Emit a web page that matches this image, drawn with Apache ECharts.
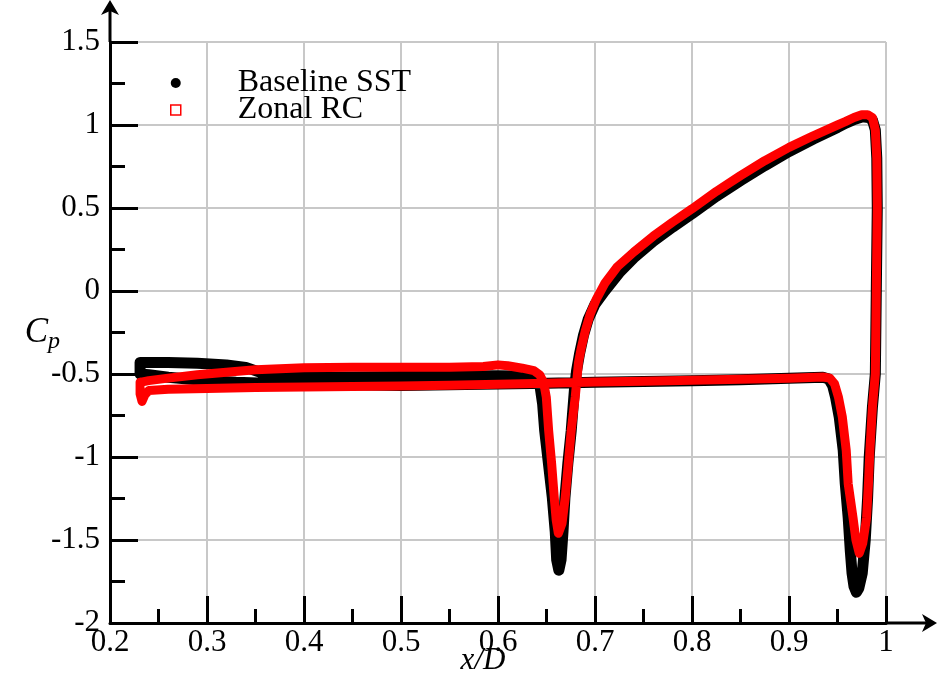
<!DOCTYPE html>
<html>
<head>
<meta charset="utf-8">
<script src="https://cdn.jsdelivr.net/npm/echarts@6.0.0/dist/echarts.min.js"></script>
<style>
  html, body { margin: 0; padding: 0; background: #fff; }
  #chart { width: 937px; height: 689px; }
</style>
</head>
<body>
<div id="chart"></div>
<script>
// Cp along the surface: [x/D, Cp]
// Baseline SST: bottom side + trailing dip + right edge
const sstLower = [
  [0.231, -0.43], [0.231, -0.5], [0.24, -0.505], [0.26, -0.52], [0.28, -0.53], [0.3, -0.54],
  [0.33, -0.55], [0.36, -0.555], [0.4, -0.56], [0.45, -0.565], [0.5, -0.57], [0.55, -0.565],
  [0.6, -0.56], [0.65, -0.555], [0.7, -0.55], [0.75, -0.545], [0.8, -0.54], [0.85, -0.535],
  [0.9, -0.525], [0.935, -0.52], [0.941, -0.53], [0.945, -0.57], [0.948, -0.64], [0.9518, -0.76],
  [0.9559, -0.96], [0.958, -1.16], [0.961, -1.365], [0.9632, -1.565], [0.965, -1.7], [0.967, -1.78],
  [0.9695, -1.815], [0.972, -1.79], [0.9755, -1.7], [0.9786, -1.5], [0.981, -1.25], [0.9827, -1.0],
  [0.986, -0.7], [0.989, -0.5], [0.9895, -0.25], [0.99, 0], [0.991, 0.5], [0.9905, 0.8], [0.989, 0.97]
];
// Baseline SST: peak, rising side, step dip, top side back to the start
const sstUpper = [
  [0.986, 1.03], [0.982, 1.045], [0.976, 1.05], [0.968, 1.035], [0.958, 1.01], [0.95, 0.985],
  [0.925, 0.915], [0.9, 0.84], [0.875, 0.755], [0.85, 0.665], [0.825, 0.57], [0.8, 0.465],
  [0.78, 0.385], [0.76, 0.3], [0.74, 0.2], [0.725, 0.11], [0.71, 0.0], [0.7, -0.08],
  [0.693, -0.17], [0.688, -0.27], [0.684, -0.38], [0.681, -0.48], [0.679, -0.58], [0.6755, -0.84],
  [0.672, -1.04], [0.669, -1.245], [0.667, -1.45], [0.665, -1.62], [0.6627, -1.682], [0.6605, -1.62],
  [0.659, -1.45], [0.656, -1.245], [0.652, -1.04], [0.6481, -0.84], [0.646, -0.68], [0.643, -0.56],
  [0.638, -0.525], [0.62, -0.512], [0.6, -0.51], [0.55, -0.512], [0.5, -0.515], [0.45, -0.518],
  [0.4, -0.52], [0.375, -0.515], [0.355, -0.49], [0.34, -0.46], [0.32, -0.445], [0.29, -0.435],
  [0.26, -0.43], [0.231, -0.43]
];
// Zonal RC: bottom side + trailing dip + right edge
const rcLower = [
  [0.231, -0.55], [0.231, -0.62], [0.233, -0.665], [0.236, -0.625], [0.24, -0.6], [0.26, -0.592],
  [0.3, -0.587], [0.35, -0.582], [0.4, -0.578], [0.45, -0.575], [0.5, -0.572], [0.55, -0.568],
  [0.6, -0.562], [0.65, -0.555], [0.7, -0.548], [0.75, -0.543], [0.8, -0.538], [0.85, -0.532],
  [0.9, -0.525], [0.935, -0.518], [0.942, -0.525], [0.947, -0.56], [0.951, -0.64], [0.955, -0.76],
  [0.959, -0.96], [0.961, -1.16], [0.966, -1.365], [0.969, -1.5], [0.9724, -1.58], [0.976, -1.52],
  [0.98, -1.365], [0.982, -1.15], [0.9835, -0.95], [0.986, -0.7], [0.989, -0.5], [0.9895, -0.25],
  [0.99, 0], [0.991, 0.5], [0.9905, 0.8], [0.989, 0.97]
];
// Zonal RC: peak, rising side, step dip, top side back to the start
const rcUpper = [
  [0.986, 1.045], [0.981, 1.062], [0.975, 1.062], [0.967, 1.045], [0.958, 1.02], [0.95, 1.0],
  [0.925, 0.935], [0.9, 0.865], [0.875, 0.785], [0.85, 0.695], [0.825, 0.6], [0.8, 0.495],
  [0.78, 0.415], [0.76, 0.33], [0.74, 0.235], [0.723, 0.146], [0.71, 0.045], [0.701, -0.054],
  [0.695, -0.14], [0.69, -0.24], [0.686, -0.34], [0.683, -0.43], [0.6796, -0.64], [0.6755, -0.84],
  [0.6725, -1.04], [0.6693, -1.245], [0.666, -1.4], [0.6622, -1.46], [0.66, -1.38], [0.658, -1.245],
  [0.6553, -1.04], [0.6522, -0.84], [0.6498, -0.64], [0.647, -0.55], [0.643, -0.505], [0.637, -0.48],
  [0.625, -0.465], [0.61, -0.45], [0.6, -0.445], [0.585, -0.455], [0.55, -0.46], [0.5, -0.46],
  [0.45, -0.46], [0.4, -0.463], [0.35, -0.475], [0.32, -0.49], [0.29, -0.505], [0.26, -0.525],
  [0.24, -0.54], [0.231, -0.55]
];
const seriesNames = ["Baseline SST", "Zonal RC"];

const font = "Liberation Serif";
const chart = echarts.init(document.getElementById("chart"));

// plot box in px (axis arrows are drawn outside of it)
const gridLeft = 110, gridRight = 51, gridTop = 42, gridBottom = 66;
const W = 937, H = 689;
const axisEndX = W - gridRight, axisY = H - gridBottom;

chart.setOption({
  animation: false,
  backgroundColor: "#fff",
  grid: { left: gridLeft, right: gridRight, top: gridTop, bottom: gridBottom, outerBoundsMode: "none" },
  legend: {
    orient: "vertical",
    left: 170,
    top: 67,
    padding: 0,
    itemWidth: 10,
    itemHeight: 10,
    itemGap: -5,
    textStyle: { fontFamily: font, fontSize: 32, color: "#000", padding: [0, 0, 0, 52] },
    data: [
      { name: seriesNames[0], icon: "circle", itemStyle: { color: "#000" } },
      { name: seriesNames[1], icon: "rect", itemStyle: { color: "#fff", borderColor: "#ff0000", borderWidth: 1.5 } }
    ]
  },
  xAxis: {
    type: "value",
    min: 0.2,
    max: 1.0,
    interval: 0.1,
    name: "x/D",
    nameLocation: "middle",
    nameGap: 22,
    nameMoveOverlap: false,
    nameTextStyle: { fontFamily: font, fontStyle: "italic", fontSize: 31, color: "#000", padding: [0, 30, 0, 0] },
    axisLine: { onZero: false, lineStyle: { color: "#000", width: 3 } },
    axisTick: { inside: true, length: 27, lineStyle: { color: "#000", width: 3 } },
    minorTick: { show: true, splitNumber: 2, length: 14, lineStyle: { color: "#000", width: 3 } },
    splitLine: { show: true, lineStyle: { color: "#c8c8c8", width: 2 } },
    axisLabel: { margin: 4, fontFamily: font, fontSize: 31, color: "#000" }
  },
  yAxis: {
    type: "value",
    min: -2,
    max: 1.5,
    interval: 0.5,
    name: "{c|C}{p|p}",
    nameLocation: "middle",
    nameRotate: 0,
    nameGap: 50,
    nameMoveOverlap: false,
    nameTextStyle: {
      rich: {
        c: { fontFamily: font, fontStyle: "italic", fontSize: 35, color: "#000" },
        p: { fontFamily: font, fontStyle: "italic", fontSize: 24, color: "#000", padding: [18, 0, 0, 0] }
      }
    },
    axisLine: { onZero: false, lineStyle: { color: "#000", width: 3 } },
    axisTick: { inside: true, length: 28, lineStyle: { color: "#000", width: 3 } },
    minorTick: { show: true, splitNumber: 2, length: 15, lineStyle: { color: "#000", width: 3 } },
    splitLine: { show: true, lineStyle: { color: "#c8c8c8", width: 2 } },
    axisLabel: { margin: 10, fontFamily: font, fontSize: 31, color: "#000" }
  },
  series: [
    {
      name: seriesNames[0],
      type: "line",
      data: sstLower.concat(sstUpper),
      symbol: "circle",
      showSymbol: false,
      lineStyle: { color: "#000", width: 11, cap: "round", join: "round" },
      itemStyle: { color: "#000" }
    },
    {
      name: seriesNames[1],
      type: "line",
      data: rcLower.concat(rcUpper),
      symbol: "rect",
      showSymbol: false,
      lineStyle: { color: "#ff0000", width: 9, cap: "round", join: "round" },
      itemStyle: { color: "#ff0000" }
    }
  ],
  // axis arrows past the last gridline
  graphic: [
    { type: "line", shape: { x1: axisEndX, y1: axisY, x2: W - 9, y2: axisY }, style: { stroke: "#000", lineWidth: 3 } },
    { type: "polygon", shape: { points: [[W, axisY], [W - 15, axisY - 9], [W - 11, axisY], [W - 15, axisY + 9]] }, style: { fill: "#000" } },
    { type: "line", shape: { x1: gridLeft, y1: gridTop, x2: gridLeft, y2: 9 }, style: { stroke: "#000", lineWidth: 3 } },
    { type: "polygon", shape: { points: [[gridLeft, 0], [gridLeft - 9, 15], [gridLeft, 11], [gridLeft + 9, 15]] }, style: { fill: "#000" } }
  ]
});
</script>
</body>
</html>
